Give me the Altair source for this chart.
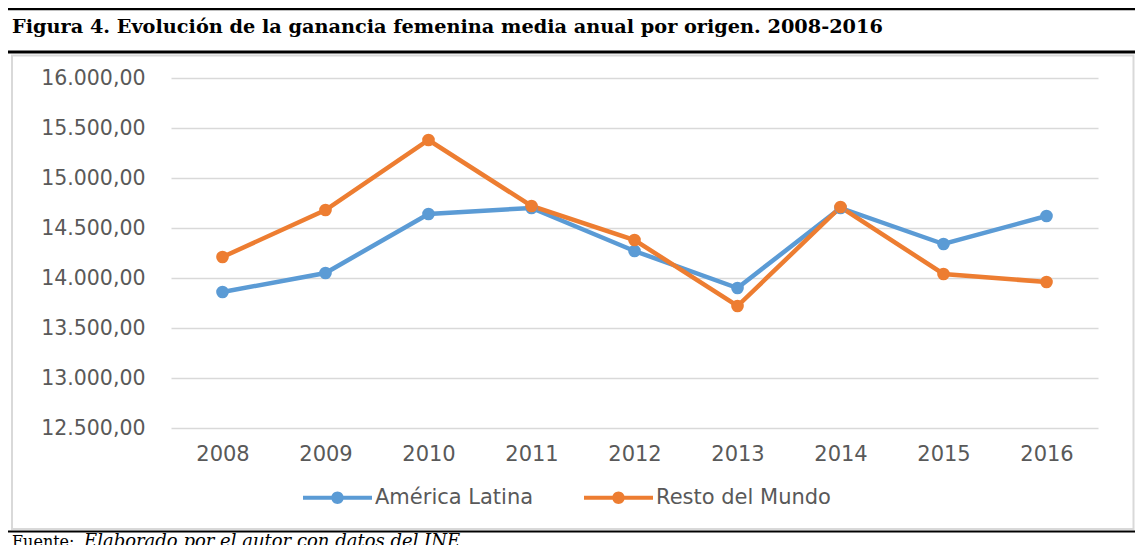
import altair as alt
import pandas as pd

years = ["2008", "2009", "2010", "2011", "2012", "2013", "2014", "2015", "2016"]
america_latina = [13860, 14050, 14640, 14700, 14270, 13900, 14700, 14340, 14620]
resto_mundo = [14210, 14680, 15380, 14720, 14380, 13720, 14710, 14040, 13960]
series_names = ["América Latina", "Resto del Mundo"]
series_colors = ["#5B9BD5", "#ED7D31"]
y_ticks = [12500, 13000, 13500, 14000, 14500, 15000, 15500, 16000]

title_text = "Figura 4. Evolución de la ganancia femenina media anual por origen. 2008-2016"
footer_a = "Fuente:"
footer_b = "Elaborado por el autor con datos del INE"

df = pd.DataFrame({
    "year": years * 2,
    "value": america_latina + resto_mundo,
    "serie": [series_names[0]] * len(years) + [series_names[1]] * len(years),
})

W, H = 927, 350
PAD = {"left": 163, "top": 70, "right": 37, "bottom": 117}

x_enc = alt.X("year:O", scale=alt.Scale(type="point", padding=0.5),
              axis=alt.Axis(title=None, labelAngle=0, ticks=False, tickSize=0, domain=False,
                            grid=False, labelFont="DejaVu Sans", labelFontSize=21,
                            labelColor="#595959", labelBaseline="middle", labelPadding=26))
y_enc = alt.Y("value:Q", scale=alt.Scale(domain=[12500, 16000], nice=False, zero=False),
              axis=alt.Axis(title=None, values=y_ticks, ticks=False, tickSize=0, domain=False,
                            grid=True, gridColor="#D9D9D9", gridWidth=1.5,
                            labelFont="DejaVu Sans", labelFontSize=20.5, labelColor="#595959",
                            labelPadding=26,
                            labelExpr="replace(replace(replace(format(datum.value, ',.2f'), ',', '_'), '.', ','), '_', '.')"))
color_scale = alt.Scale(domain=series_names, range=series_colors)

symbol_path = ("M-1,-0.06L1,-0.06L1,0.06L-1,0.06Z"
               "M0.18,0A0.18,0.18,0,1,1,-0.18,0A0.18,0.18,0,1,1,0.18,0Z")

series = alt.Chart(df).mark_line(
    strokeWidth=4.5,
    point=alt.OverlayMarkDef(filled=True, size=160, opacity=1),
).encode(
    x=x_enc, y=y_enc,
    color=alt.Color("serie:N", scale=color_scale,
                    legend=alt.Legend(orient="none", legendX=132, legendY=385,
                                      direction="horizontal", title=None,
                                      symbolType=symbol_path, symbolSize=4761,
                                      symbolFillColor="#5B9BD5",
                                      symbolStrokeWidth=0,
                                      labelFont="DejaVu Sans", labelFontSize=21,
                                      labelColor="#595959", labelOffset=3,
                                      labelLimit=0,
                                      columnPadding=50, padding=0)),
)

one = pd.DataFrame({"a": [0]})
deco = alt.Chart(one)

top_line = deco.mark_rule(color="black", strokeWidth=2.5).encode(
    x=alt.value(-163), x2=alt.value(964), y=alt.value(-69))
mid_line = deco.mark_rule(color="black", strokeWidth=3).encode(
    x=alt.value(-163), x2=alt.value(964), y=alt.value(-26))
bottom_line = deco.mark_rule(color="black", strokeWidth=2).encode(
    x=alt.value(-163), x2=alt.value(964), y=alt.value(453.5))
box = deco.mark_rect(fillOpacity=0, stroke="#D9D9D9", strokeWidth=2).encode(
    x=alt.value(-159), x2=alt.value(962.5), y=alt.value(-22.5), y2=alt.value(451))
title = deco.mark_text(align="left", baseline="alphabetic", font="DejaVu Serif",
                       fontWeight="bold", fontSize=19.3, color="black").encode(
    x=alt.value(-159), y=alt.value(-45), text=alt.value(title_text))
foot1 = deco.mark_text(align="left", baseline="alphabetic", font="DejaVu Serif",
                       fontSize=16, color="black").encode(
    x=alt.value(-159), y=alt.value(469), text=alt.value(footer_a))
foot2 = deco.mark_text(align="left", baseline="alphabetic", font="DejaVu Serif",
                       fontStyle="italic", fontSize=18, color="black").encode(
    x=alt.value(-87), y=alt.value(469), text=alt.value(footer_b))

chart = alt.layer(series, box, top_line, mid_line, title, foot1, foot2, bottom_line).properties(
    width=W, height=H,
    autosize=alt.AutoSizeParams(type="none"),
    padding=PAD,
    background="white",
).configure_view(strokeWidth=0)

chart.save("out.html", embed_options={"renderer": "svg", "actions": False})
